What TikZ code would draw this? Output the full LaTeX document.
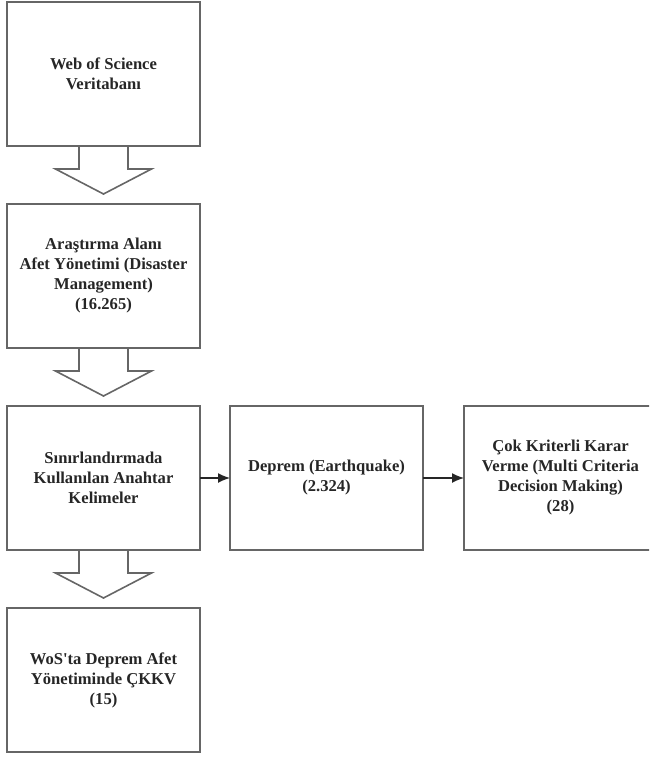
\documentclass[tikz,border=0pt]{standalone}
\usepackage{fontspec}
\setmainfont{Liberation Serif}[Ligatures=TeXOff]
\usetikzlibrary{arrows.meta,positioning,calc}

\begin{document}
\begin{tikzpicture}[x=1pt, y=1pt, every text node part/.style={align=center},
    kutu/.style={draw=black!60, line width=1.6pt, minimum width=193pt, minimum height=144pt,
        inner sep=0pt, outer sep=0pt, font=\fontsize{16.6}{20}\selectfont\bfseries, text=black!85},
    blok/.style={draw=black!60, line width=1.6pt, line join=miter},
    ok/.style={-{Latex[length=12pt,width=10pt]}, draw=black!85, line width=1.4pt}]
    \useasboundingbox (0,0) rectangle (649,-758);
    \clip (0,0) rectangle (649,-758);

    \node[kutu] (wos) at (103.5,-74) {Web of Science\\Veritabanı};
    \node[kutu, below=58pt of wos] (alan) {Araştırma Alanı\\Afet Yönetimi (Disaster\\Management)\\(16.265)};
    \node[kutu, below=58pt of alan] (sinir) {Sınırlandırmada\\Kullanılan Anahtar\\Kelimeler};
    \node[kutu, below=58pt of sinir] (sonuc) {WoS'ta Deprem Afet\\Yönetiminde ÇKKV\\(15)};

    \node[kutu, right=30pt of sinir] (deprem) {Deprem (Earthquake)\\(2.324)};
    \node[kutu, right=41pt of deprem] (ckkv) {Çok Kriterli Karar\\Verme (Multi Criteria\\Decision Making)\\(28)};

    % hollow arrows between the left boxes
    \foreach \a/\b in {wos/alan, alan/sinir, sinir/sonuc}
        \draw[blok] ($(\a.south)+(-24.5,0)$) -- ++(0,-23) -- ++(-23.5,0)
            -- ($(\b.north)+(0,10)$) -- ($(\a.south)+(48,-23)$) -- ++(-23.5,0)
            -- ($(\a.south)+(24.5,0)$);

    \draw[ok] (sinir) -- (deprem);
    \draw[ok] (deprem) -- (ckkv);
\end{tikzpicture}
\end{document}
